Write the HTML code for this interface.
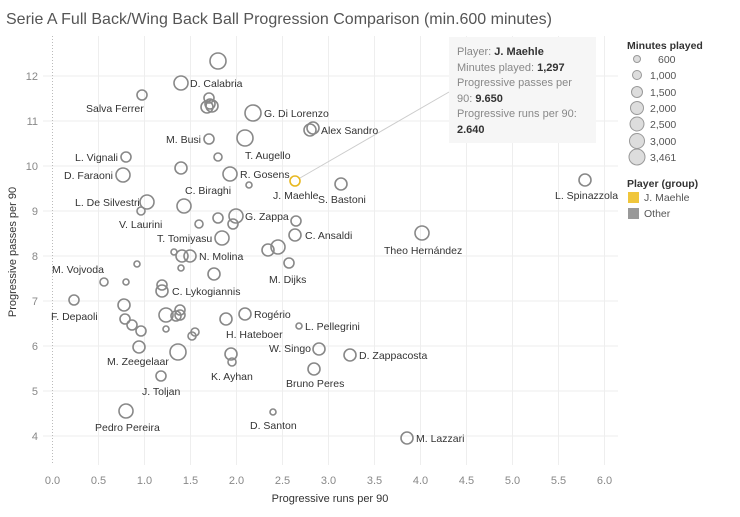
<!DOCTYPE html>
<html><head><meta charset="utf-8"><style>
body{margin:0;background:#fff;width:740px;height:512px;overflow:hidden;font-family:"Liberation Sans",sans-serif}
</style></head><body>
<svg width="740" height="512" xmlns="http://www.w3.org/2000/svg" font-family="Liberation Sans, sans-serif">
<text x="6" y="24" font-size="16" fill="#555">Serie A Full Back/Wing Back Ball Progression Comparison (min.600 minutes)</text>
<g stroke="#eeeeee" stroke-width="1">
<line x1="43" y1="436" x2="618" y2="436"/><line x1="43" y1="391" x2="618" y2="391"/><line x1="43" y1="346" x2="618" y2="346"/><line x1="43" y1="301" x2="618" y2="301"/><line x1="43" y1="256" x2="618" y2="256"/><line x1="43" y1="211" x2="618" y2="211"/><line x1="43" y1="166" x2="618" y2="166"/><line x1="43" y1="121" x2="618" y2="121"/><line x1="43" y1="76" x2="618" y2="76"/>
<line x1="98.5" y1="36" x2="98.5" y2="465"/><line x1="144.5" y1="36" x2="144.5" y2="465"/><line x1="190.5" y1="36" x2="190.5" y2="465"/><line x1="236.5" y1="36" x2="236.5" y2="465"/><line x1="282.5" y1="36" x2="282.5" y2="465"/><line x1="328.5" y1="36" x2="328.5" y2="465"/><line x1="374.5" y1="36" x2="374.5" y2="465"/><line x1="420.5" y1="36" x2="420.5" y2="465"/><line x1="466.5" y1="36" x2="466.5" y2="465"/><line x1="512.5" y1="36" x2="512.5" y2="465"/><line x1="558.5" y1="36" x2="558.5" y2="465"/><line x1="604.5" y1="36" x2="604.5" y2="465"/>
</g>
<line x1="52.5" y1="36" x2="52.5" y2="465" stroke="#bbb" stroke-dasharray="1,2"/>
<g font-size="11" fill="#888" text-anchor="end">
<text x="38" y="440">4</text><text x="38" y="395">5</text><text x="38" y="350">6</text><text x="38" y="305">7</text><text x="38" y="260">8</text><text x="38" y="215">9</text><text x="38" y="170">10</text><text x="38" y="125">11</text><text x="38" y="80">12</text>
</g>
<g font-size="11" fill="#888" text-anchor="middle">
<text x="52.5" y="484">0.0</text><text x="98.5" y="484">0.5</text><text x="144.5" y="484">1.0</text><text x="190.5" y="484">1.5</text><text x="236.5" y="484">2.0</text><text x="282.5" y="484">2.5</text><text x="328.5" y="484">3.0</text><text x="374.5" y="484">3.5</text><text x="420.5" y="484">4.0</text><text x="466.5" y="484">4.5</text><text x="512.5" y="484">5.0</text><text x="558.5" y="484">5.5</text><text x="604.5" y="484">6.0</text>
</g>
<text x="330" y="502" font-size="11" fill="#333" text-anchor="middle">Progressive runs per 90</text>
<text transform="translate(16,252) rotate(-90)" font-size="11" fill="#333" text-anchor="middle">Progressive passes per 90</text>
<line x1="300" y1="178" x2="449" y2="92" stroke="#ccc"/>
<g fill="none" stroke="#888" stroke-width="1.6">
<circle cx="218" cy="61" r="8"/><circle cx="181" cy="83" r="7"/><circle cx="142" cy="95" r="5"/>
<circle cx="209" cy="98" r="5"/><circle cx="210" cy="104" r="5"/><circle cx="207" cy="107" r="6"/><circle cx="212" cy="106" r="6"/>
<circle cx="253" cy="113" r="8"/><circle cx="310" cy="130" r="6"/><circle cx="313" cy="128" r="6"/>
<circle cx="209" cy="139" r="5"/><circle cx="245" cy="138" r="8"/><circle cx="218" cy="157" r="4"/>
<circle cx="126" cy="157" r="5"/><circle cx="181" cy="168" r="6"/><circle cx="123" cy="175" r="7"/>
<circle cx="230" cy="174" r="7"/><circle cx="249" cy="185" r="3"/><circle cx="341" cy="184" r="6"/>
<circle cx="585" cy="180" r="6"/><circle cx="147" cy="202" r="7"/><circle cx="141" cy="211" r="4"/>
<circle cx="184" cy="206" r="7"/><circle cx="218" cy="218" r="5"/><circle cx="236" cy="216" r="7"/>
<circle cx="233" cy="224" r="5"/><circle cx="199" cy="224" r="4"/><circle cx="296" cy="221" r="5"/>
<circle cx="295" cy="235" r="6"/><circle cx="222" cy="238" r="7"/><circle cx="422" cy="233" r="7"/>
<circle cx="174" cy="252" r="3"/><circle cx="182" cy="256" r="6"/><circle cx="190" cy="256" r="6"/>
<circle cx="268" cy="250" r="6"/><circle cx="278" cy="247" r="7"/><circle cx="289" cy="263" r="5"/>
<circle cx="137" cy="264" r="3"/><circle cx="181" cy="268" r="3"/><circle cx="214" cy="274" r="6"/>
<circle cx="104" cy="282" r="4"/><circle cx="126" cy="282" r="3"/><circle cx="162" cy="285" r="5"/>
<circle cx="162" cy="291" r="6"/><circle cx="74" cy="300" r="5"/><circle cx="124" cy="305" r="6"/>
<circle cx="180" cy="310" r="5"/><circle cx="180" cy="315" r="5"/><circle cx="166" cy="315" r="7"/>
<circle cx="176" cy="316" r="5"/><circle cx="125" cy="319" r="5"/><circle cx="132" cy="325" r="5"/>
<circle cx="141" cy="331" r="5"/><circle cx="226" cy="319" r="6"/><circle cx="245" cy="314" r="6"/>
<circle cx="299" cy="326" r="3"/><circle cx="166" cy="329" r="3"/><circle cx="192" cy="336" r="4"/>
<circle cx="195" cy="332" r="4"/><circle cx="139" cy="347" r="6"/><circle cx="178" cy="352" r="8"/>
<circle cx="231" cy="354" r="6"/><circle cx="232" cy="362" r="4"/><circle cx="319" cy="349" r="6"/>
<circle cx="350" cy="355" r="6"/><circle cx="314" cy="369" r="6"/><circle cx="161" cy="376" r="5"/>
<circle cx="126" cy="411" r="7"/><circle cx="273" cy="412" r="3"/><circle cx="407" cy="438" r="6"/>
</g>
<circle cx="295" cy="181" r="5" fill="none" stroke="#e8b820" stroke-width="1.6"/>
<g font-size="10.5" fill="#333">
<text x="190" y="87">D. Calabria</text>
<text x="86" y="112">Salva Ferrer</text>
<text x="264" y="117">G. Di Lorenzo</text>
<text x="321" y="134">Alex Sandro</text>
<text x="166" y="143">M. Busi</text>
<text x="245" y="159">T. Augello</text>
<text x="75" y="161">L. Vignali</text>
<text x="64" y="179">D. Faraoni</text>
<text x="240" y="178">R. Gosens</text>
<text x="273" y="199">J. Maehle</text>
<text x="318" y="203">S. Bastoni</text>
<text x="555" y="199">L. Spinazzola</text>
<text x="185" y="194">C. Biraghi</text>
<text x="75" y="206">L. De Silvestri</text>
<text x="245" y="220">G. Zappa</text>
<text x="119" y="228">V. Laurini</text>
<text x="305" y="239">C. Ansaldi</text>
<text x="157" y="242">T. Tomiyasu</text>
<text x="384" y="254">Theo Hernández</text>
<text x="199" y="260">N. Molina</text>
<text x="269" y="283">M. Dijks</text>
<text x="52" y="273">M. Vojvoda</text>
<text x="172" y="295">C. Lykogiannis</text>
<text x="51" y="320">F. Depaoli</text>
<text x="254" y="318">Rogério</text>
<text x="305" y="330">L. Pellegrini</text>
<text x="226" y="338">H. Hateboer</text>
<text x="269" y="352">W. Singo</text>
<text x="107" y="365">M. Zeegelaar</text>
<text x="359" y="359">D. Zappacosta</text>
<text x="211" y="380">K. Ayhan</text>
<text x="286" y="387">Bruno Peres</text>
<text x="142" y="395">J. Toljan</text>
<text x="95" y="431">Pedro Pereira</text>
<text x="250" y="429">D. Santon</text>
<text x="416" y="442">M. Lazzari</text>
</g>
<rect x="449" y="37" width="147" height="106" fill="#f6f6f6"/>
<g font-size="11" fill="#888">
<text x="457" y="55">Player: <tspan fill="#333" font-weight="bold">J. Maehle</tspan></text>
<text x="457" y="71">Minutes played: <tspan fill="#333" font-weight="bold">1,297</tspan></text>
<text x="457" y="86">Progressive passes per</text>
<text x="457" y="102">90: <tspan fill="#333" font-weight="bold">9.650</tspan></text>
<text x="457" y="117">Progressive runs per 90:</text>
<text x="457" y="133" fill="#333" font-weight="bold">2.640</text>
</g>
<text x="627" y="49" font-size="10.5" fill="#333" font-weight="bold">Minutes played</text>
<g fill="#ddd" stroke="#999" stroke-width="1">
<circle cx="637" cy="59" r="3.5"/><circle cx="637" cy="75" r="4.5"/><circle cx="637" cy="92" r="5.5"/><circle cx="637" cy="108" r="6.5"/><circle cx="637" cy="124" r="7"/><circle cx="637" cy="141" r="7.5"/><circle cx="637" cy="157" r="8"/>
</g>
<g font-size="10.5" fill="#555">
<text x="658" y="63">600</text><text x="650" y="79">1,000</text><text x="650" y="96">1,500</text><text x="650" y="112">2,000</text><text x="650" y="128">2,500</text><text x="650" y="145">3,000</text><text x="650" y="161">3,461</text>
</g>
<text x="627" y="187" font-size="10.5" fill="#333" font-weight="bold">Player (group)</text>
<rect x="628" y="192" width="11" height="11" fill="#f0c63c"/>
<rect x="628" y="208" width="11" height="11" fill="#999"/>
<text x="644" y="201" font-size="10.5" fill="#555">J. Maehle</text>
<text x="644" y="217" font-size="10.5" fill="#555">Other</text>
</svg>
</body></html>
